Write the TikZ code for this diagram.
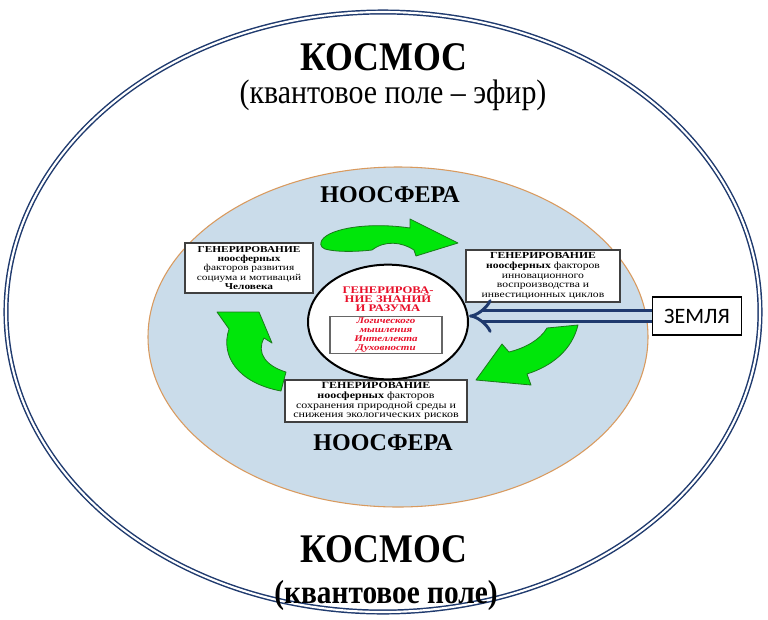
\documentclass[tikz,border=0pt]{standalone}
\usepackage{fontspec}
\setmainfont{Liberation Serif}
\newfontfamily\zemfont{Carlito}
\newfontfamily\tallfont[FakeStretch=0.88]{Liberation Serif}
\newfontfamily\widefont[FakeStretch=1.25]{Liberation Serif}
\usetikzlibrary{arrows.meta,shapes.geometric}
\definecolor{spaceblue}{HTML}{1F3A6E}
\definecolor{noofill}{HTML}{CADCEA}
\definecolor{nooedge}{HTML}{D99A5E}
\definecolor{cyclegreen}{HTML}{00E60A}
\definecolor{cycleedge}{HTML}{1A7A1A}
\definecolor{coretext}{HTML}{E8102A}
\tikzset{
  genbox/.style={draw=black!75, line width=1.4pt, fill=white, align=center, inner sep=0.5pt, font=\widefont\fontsize{7.2}{7.5}\selectfont},
  cyclearrow/.style={fill=cyclegreen, draw=cycleedge, line width=0.6pt, line join=round},
  bigtitle/.style={inner sep=0pt, font=\tallfont\bfseries\fontsize{30.5}{30}\selectfont},
  nootitle/.style={font=\bfseries\fontsize{18}{18}\selectfont},
}
\begin{document}
\begin{tikzpicture}[x=0.75pt,y=-0.75pt]
  \useasboundingbox[fill=white] (0,0) rectangle (768,619);
  \draw[spaceblue, line width=1.1pt, double=white, double distance=1.6pt] (383,312) ellipse [x radius=377, y radius=300];
  \draw[nooedge, fill=noofill, line width=0.8pt] (398,337) ellipse [x radius=250, y radius=170];
  \node[bigtitle] (cosmosTop) at (384,57) {КОСМОС};
  \node[inner sep=0pt, font=\tallfont\fontsize{25.5}{25}\selectfont] (etherTop) at (393,95) {(квантовое поле – эфир)};
  \node[bigtitle] (cosmosBot) at (384,549) {КОСМОС};
  \node[inner sep=0pt, font=\tallfont\bfseries\fontsize{25}{25}\selectfont] (fieldBot) at (386,595) {(квантовое поле)};
  \node[nootitle] (nooTop) at (390,195) {НООСФЕРА};
  \node[nootitle] (nooBot) at (383,443) {НООСФЕРА};
  \draw[cyclearrow] (322,240) .. controls (330,228) and (370,222) .. (410,228) -- (410,219) -- (458,243) -- (416,256) -- (414,250) .. controls (402,242) and (385,240) .. (372,250) .. controls (355,252) and (335,252) .. (325,249) .. controls (320,247) and (320,243) .. cycle;
  \draw[cyclearrow] (547,328) -- (578,325) .. controls (572,350) and (552,366) .. (527,374) -- (531,385) -- (476,380) -- (502,344) -- (509,352) .. controls (525,348) and (540,340) .. cycle;
  \draw[cyclearrow] (217,312) -- (259,312) -- (272,343) -- (264,338) .. controls (256,353) and (266,366) .. (286,372) -- (281,391) .. controls (238,383) and (220,356) .. (229,329) -- cycle;
  \node[genbox, minimum width=96pt, minimum height=37.5pt, font=\widefont\fontsize{6.8}{7}\selectfont] (humanBox) at (249,268) {\textbf{ГЕНЕРИРОВАНИЕ}\\\textbf{ноосферных}\\факторов развития\\социума и мотиваций\\\textbf{Человека}};
  \node[genbox, minimum width=115pt, minimum height=39pt, font=\widefont\fontsize{7}{7.3}\selectfont] (innovBox) at (543,276) {\textbf{ГЕНЕРИРОВАНИЕ}\\\textbf{ноосферных} факторов\\инновационного\\воспроизводства и\\инвестиционных циклов};
  \node[genbox, minimum width=137pt, minimum height=32pt, font=\widefont\fontsize{7.2}{7.4}\selectfont] (ecoBox) at (376,401) {\textbf{ГЕНЕРИРОВАНИЕ}\\\textbf{ноосферных} факторов\\сохранения природной среды и\\снижения экологических рисков};
  \node[draw, ellipse, line width=1.5pt, fill=white, minimum width=120pt, minimum height=86pt] (core) at (388,322) {};
  \node[text=coretext, inner sep=0pt, font=\widefont\bfseries\fontsize{7.6}{6.8}\selectfont, align=center] (coreTitle) at (388,299) {ГЕНЕРИРОВА-\\НИЕ ЗНАНИЙ\\И РАЗУМА};
  \node[draw=black!60, line width=0.9pt, minimum width=84pt, minimum height=27.5pt, inner sep=0.5pt, align=center, text=coretext, font=\widefont\bfseries\itshape\fontsize{6.6}{6.9}\selectfont] (mindBox) at (386,335) {Логического\\мышления\\Интеллекта\\Духовности};
  \node[draw, line width=0.8pt, fill=white, minimum width=67pt, minimum height=28.5pt, font=\zemfont\fontsize{16.5}{16.5}\selectfont] (zemlya) at (697,316) {ЗЕМЛЯ};
  \draw[spaceblue, line width=2.2pt, double=noofill, double distance=6.5pt, -{Implies}] (zemlya.west) -- (core.east |- zemlya.west);
\end{tikzpicture}
\end{document}
